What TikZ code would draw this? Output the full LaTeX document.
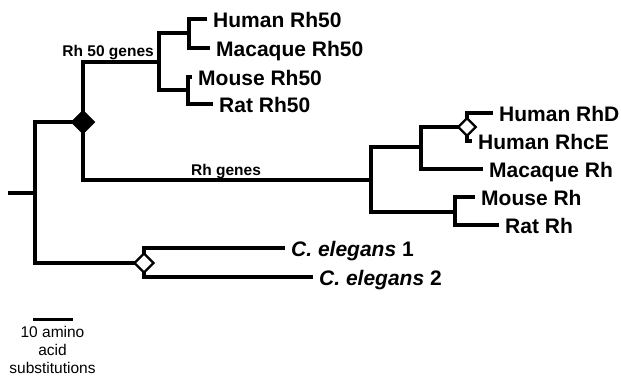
\documentclass[tikz,border=0pt]{standalone}
\usepackage{fontspec}
\setmainfont{Liberation Sans}
\usetikzlibrary{shapes.geometric}
\pgfdeclarelayer{bg}
\pgfsetlayers{bg,main}
\begin{document}
\begin{tikzpicture}[x=1pt,y=-1pt,
  branch/.style={line width=3.1pt, line join=miter},
  fdia/.style={diamond, fill=black, draw=black, line width=0.5pt, minimum width=24pt, minimum height=24pt, inner sep=0pt},
  odia/.style={diamond, fill=white, draw=black, line width=2.3pt, minimum width=#1, minimum height=#1, inner sep=0pt},
  leaf/.style={anchor=west, font=\bfseries\fontsize{21}{22}\selectfont, text height=17pt, text depth=0pt, inner xsep=6pt, inner ysep=0pt},
  grp/.style={font=\bfseries\fontsize{15.5}{17}\selectfont, inner sep=0pt},
  scaletxt/.style={font=\fontsize{15.5}{18}\selectfont, align=center, inner sep=0pt}
]
\useasboundingbox (0,0) rectangle (621,376);

% internal points
\coordinate (rootL) at (8,193);
\coordinate (root) at (35,193);
\node[fdia] (d1) at (83,122) {};
\coordinate (r50) at (159,62);
\coordinate (hm50) at (189,33);
\coordinate (mr50) at (188,90);
\coordinate (rh) at (371,180);
\coordinate (rhu) at (421,147);
\node[odia=18.5pt] (d2) at (467,127) {};
\coordinate (rhl) at (455,212);
\node[odia=20pt] (d3) at (144,263) {};

% leaves
\node[leaf] (hr50) at (207,19) {Human Rh50};
\node[leaf] (mac50) at (210,48) {Macaque Rh50};
\node[leaf] (mo50) at (192,77) {Mouse Rh50};
\node[leaf] (ra50) at (213,104) {Rat Rh50};
\node[leaf] (hrd) at (493,113) {Human RhD};
\node[leaf] (hrce) at (472,141) {Human RhcE};
\node[leaf] (macrh) at (483,169) {Macaque Rh};
\node[leaf] (morh) at (475,197) {Mouse Rh};
\node[leaf] (rarh) at (499,225) {Rat Rh};
\node[leaf] (ce1) at (285,248) {\textit{C. elegans} 1};
\node[leaf] (ce2) at (313,277) {\textit{C. elegans} 2};

% group labels
\node[grp, anchor=base east] (l50) at (154,56) {Rh 50 genes};
\node[grp, anchor=base west] (lrh) at (191,175) {Rh genes};

% scale bar
\coordinate (sb1) at (33,319.5);
\coordinate (sb2) at (73,319.5);
\node[scaletxt, anchor=base] (sbt) at (52.5,373) {10 amino\\acid\\substitutions};

\begin{pgfonlayer}{bg}
\draw[branch] (rootL) -- (root);
\draw[branch] (root) |- (d1.center);
\draw[branch] (root) |- (d3.center);
\draw[branch] (d1.center) |- (r50);
\draw[branch] (d1.center) |- (rh);
\draw[branch] (r50) |- (hm50);
\draw[branch] (r50) |- (mr50);
\draw[branch] (hm50) |- (hr50.west);
\draw[branch] (hm50) |- (mac50.west);
\draw[branch] (mr50) |- (mo50.west);
\draw[branch] (mr50) |- (ra50.west);
\draw[branch] (rh) |- (rhu);
\draw[branch] (rh) |- (rhl);
\draw[branch] (rhu) |- (d2.center);
\draw[branch] (rhu) |- (macrh.west);
\draw[branch] (d2.center) |- (hrd.west);
\draw[branch] (d2.center) |- (hrce.west);
\draw[branch] (rhl) |- (morh.west);
\draw[branch] (rhl) |- (rarh.west);
\draw[branch] (d3.center) |- (ce1.west);
\draw[branch] (d3.center) |- (ce2.west);
\draw[line width=2.2pt] (sb1) -- (sb2);
\end{pgfonlayer}
\end{tikzpicture}
\end{document}
